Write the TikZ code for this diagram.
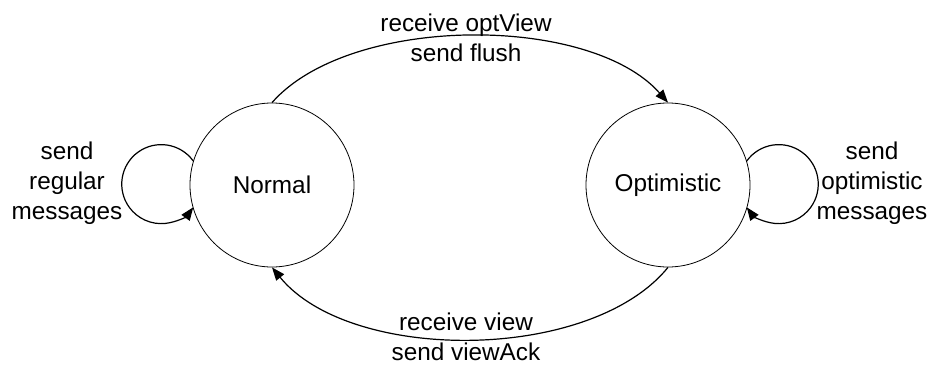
\documentclass[tikz,border=0pt]{standalone}
\usepackage{fontspec}
\setmainfont{Liberation Sans}
\usetikzlibrary{arrows.meta}
\begin{document}
\begin{tikzpicture}[x=1bp,y=1bp,
  state/.style={draw,circle,line width=0.8bp,minimum size=164bp,inner sep=0pt,font=\fontsize{24.4}{30}\selectfont},
  lbl/.style={align=center,inner sep=0pt,font=\fontsize{24.4}{30}\selectfont},
  trans/.style={line width=1.2bp,-{Triangle[length=13bp,width=10bp]}}]
\useasboundingbox (0,0) rectangle (930,364);
\node[state] (normal) at (272,179) {Normal};
\node[state] (opt) at (668,179) {Optimistic};
\node[lbl] (lnormal) at (67,181) {send\\regular\\messages};
\node[lbl] (lopt) at (872,181) {send\\optimistic\\messages};
\node[lbl] (ltop) at (466,326) {receive optView\\send flush};
\node[lbl] (lbot) at (466,27) {receive view\\send viewAck};
\draw[trans] (normal.north) .. controls (350,350) and (590,350) .. (opt.north);
\draw[trans] (opt.south) .. controls (590,1) and (350,1) .. (normal.south);
\draw[trans] (normal.163) arc[start angle=36,end angle=324,radius=39.5];
\draw[trans] (opt.17) arc[start angle=144,end angle=-144,radius=39.5];
\end{tikzpicture}
\end{document}
